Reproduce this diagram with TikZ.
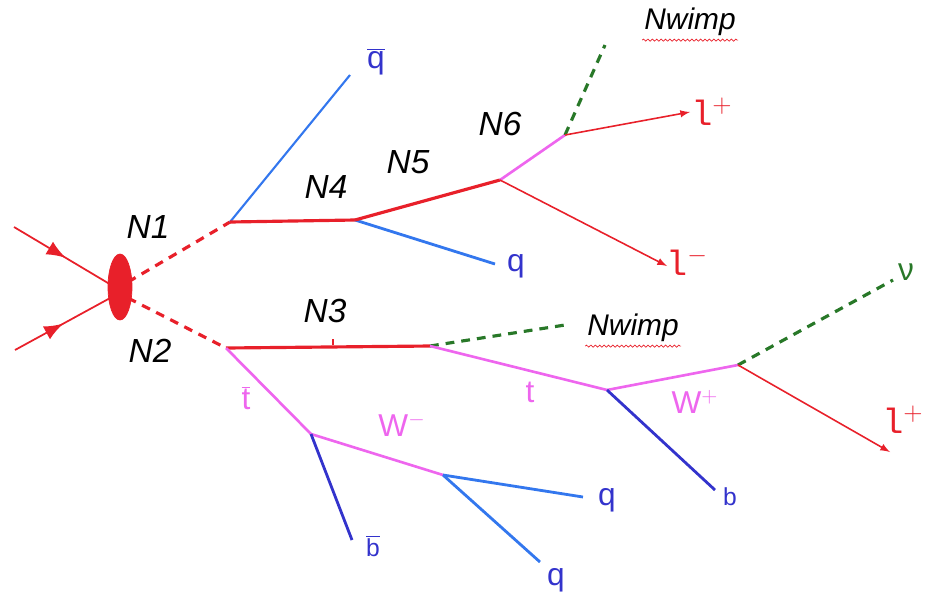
\documentclass[tikz,border=0pt]{standalone}
\usepackage{fontspec}
\setmainfont{Liberation Sans}
\newfontfamily\lfont{Liberation Mono}
\usetikzlibrary{arrows,shapes.geometric,decorations.markings,decorations.pathmorphing}
\definecolor{lred}{RGB}{232,32,42}
\definecolor{lpink}{RGB}{238,102,238}
\definecolor{lblue}{RGB}{51,119,238}
\definecolor{lviolet}{RGB}{51,51,204}
\definecolor{lgreen}{RGB}{40,120,40}
\tikzset{%
    lepton/.style={lred,line width=0.9pt,->,>=latex},
    heavy/.style={lred,line width=1.8pt},
    sparton/.style={lred,line width=1.8pt,dash pattern=on 5pt off 4pt},
    top/.style={lpink,line width=1.5pt},
    quark/.style={lblue,line width=1.6pt},
    bquark/.style={lviolet,line width=1.6pt},
    wimp/.style={lgreen,line width=1.8pt,dash pattern=on 5pt off 4pt},
    beam/.style={lred,line width=1pt,decoration={markings,mark=at position 0.5 with {\arrow[scale=1.9]{latex}}},postaction={decorate}},
    nlabel/.style={font=\fontsize{19}{20}\selectfont\itshape},
    plabel/.style={font=\fontsize{18}{20}\selectfont},
}

\begin{document}
\begin{tikzpicture}[x=0.02cm,y=-0.02cm,>=latex]
        \useasboundingbox (0,0) rectangle (925,599);
        % vertices
        \coordinate (in1) at (14,227);
        \coordinate (in2) at (15,350);
        \coordinate (A) at (230,222);
        \coordinate (B) at (355,220);
        \coordinate (C) at (500,180);
        \coordinate (D) at (565,135);
        \coordinate (E) at (226,348);
        \coordinate (F) at (430,346);
        \coordinate (G) at (607,390);
        \coordinate (H) at (738,365);
        \coordinate (I) at (311,434);
        \coordinate (J) at (443,475);
        % end points
        \coordinate (qbar) at (350,75);
        \coordinate (q1) at (495,264);
        \coordinate (w1) at (605,45);
        \coordinate (lp1) at (690,112);
        \coordinate (lm1) at (667,266);
        \coordinate (w2) at (565,325);
        \coordinate (bb) at (715,490);
        \coordinate (nu) at (893,280);
        \coordinate (lp2) at (890,452);
        \coordinate (bbar) at (352,540);
        \coordinate (q2) at (583,497);
        \coordinate (q3) at (540,562);

        % collision
        \draw[beam] (in1) -- (118,289);
        \draw[beam] (in2) -- (112,297);
        \draw[sparton] (128,282) -- (A);
        \draw[sparton] (128,298) -- (E);
        \node[fill=lred,draw=lred,ellipse,minimum width=0.48cm,minimum height=1.32cm,inner sep=0pt] (blob) at (120,287) {};

        % upper chain
        \draw[lblue,line width=1.2pt] (A) -- (qbar);
        \draw[heavy] (A) -- (B);
        \draw[quark] (B) -- (q1);
        \draw[heavy] (B) -- (C);
        \draw[top] (C) -- (D);
        \draw[wimp] (D) -- (w1);
        \draw[lepton] (D) -- (lp1);
        \draw[lepton] (C) -- (lm1);

        % lower chain
        \draw[heavy] (E) -- (F);
        \draw[lred,line width=1pt] (333,345) -- (333,339);
        \draw[wimp] (F) -- (w2);
        \draw[top] (F) -- (G);
        \draw[top] (G) -- (H);
        \draw[bquark] (G) -- (bb);
        \draw[wimp] (H) -- (nu);
        \draw[lepton] (H) -- (lp2);
        \draw[top] (E) -- (I);
        \draw[top] (I) -- (J);
        \draw[bquark] (I) -- (bbar);
        \draw[quark] (J) -- (q2);
        \draw[quark] (J) -- (q3);

        % sparticle labels
        \node[nlabel] (n1) at (148,227) {N1};
        \node[nlabel] (n2) at (150,351) {N2};
        \node[nlabel] (n3) at (325,311) {N3};
        \node[nlabel] (n4) at (326,187) {N4};
        \node[nlabel] (n5) at (408,162) {N5};
        \node[nlabel] (n6) at (500,124) {N6};
        \node[nlabel,font=\fontsize{17}{20}\selectfont\itshape] (nw1) at (690,22) {Nwimp};
        \node[nlabel,font=\fontsize{17}{20}\selectfont\itshape] (nw2) at (633,328) {Nwimp};
        \draw[lred,line width=0.4pt,decorate,decoration={snake,amplitude=0.6pt,segment length=2.5pt}] (nw1.south west) ++(4,-2) -- ++(96,0);
        \draw[lred,line width=0.4pt,decorate,decoration={snake,amplitude=0.6pt,segment length=2.5pt}] (nw2.south west) ++(4,-2) -- ++(96,0);

        % particle labels
        \node[plabel,lviolet] (lqbar) at (376,62) {$\overline{\mbox{q}}$};
        \node[plabel,lviolet] (lq1) at (516,266) {q};
        \node[plabel,lred,font=\fontsize{20}{20}\selectfont\lfont] (llp1) at (712,112) {l$^{+}$};
        \node[plabel,lred,font=\fontsize{20}{20}\selectfont\lfont] (llm1) at (687,262) {l$^{-}$};
        \node[plabel,lpink] (ltbar) at (246,398) {$\overline{\mbox{t}}$};
        \node[plabel,lpink] (lwm) at (402,425) {W$^{-}$};
        \node[plabel,lpink] (lt) at (530,392) {t};
        \node[plabel,lpink] (lwp) at (695,402) {W$^{+}$};
        \node[plabel,lviolet,font=\fontsize{14}{16}\selectfont] (lbb) at (730,497) {b};
        \node[plabel,lviolet,font=\fontsize{14}{16}\selectfont] (lbbar) at (373,546) {$\overline{\mbox{b}}$};
        \node[plabel,lviolet] (lq2) at (607,500) {q};
        \node[plabel,lviolet] (lq3) at (556,580) {q};
        \node[plabel,lgreen] (lnu) at (906,272) {ν};
        \node[plabel,lred,font=\fontsize{20}{20}\selectfont\lfont] (llp2) at (903,420) {l$^{+}$};
      \end{tikzpicture}
\end{document}
